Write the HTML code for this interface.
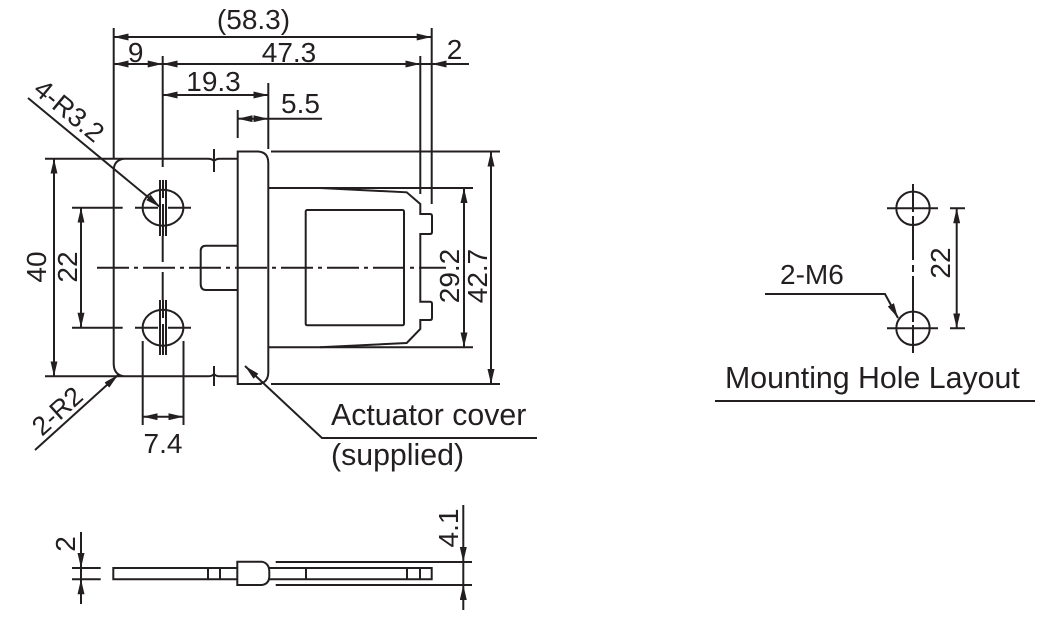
<!DOCTYPE html>
<html>
<head>
<meta charset="utf-8">
<style>
html,body{margin:0;padding:0;background:#fff;width:1047px;height:625px;overflow:hidden}
svg{display:block}
text{font-family:"Liberation Sans",sans-serif;font-size:28px;fill:#231f20}
.b{font-size:30.3px}
.t{fill:none;stroke:#231f20;stroke-width:2}
.c{fill:none;stroke:#231f20;stroke-width:2;stroke-dasharray:32 5 4 5}
</style>
</head>
<body>
<svg width="1047" height="625" viewBox="0 0 1047 625" xmlns="http://www.w3.org/2000/svg">
<defs>
<marker id="a" viewBox="0 0 15 7" refX="15" refY="3.5" markerWidth="15" markerHeight="7" markerUnits="userSpaceOnUse" orient="auto-start-reverse"><path d="M0 0L15 3.5L0 7Z" fill="#231f20"/></marker>
</defs>

<!-- top dims -->
<g class="t">
<path d="M113.7 28V158M431.7 28V204M162.7 56V167M420.3 56V194M268.3 83V149M237.7 110V138"/>
<path d="M113.7 37H431.7" marker-start="url(#a)" marker-end="url(#a)"/>
<path d="M113.7 64H162.7" marker-start="url(#a)" marker-end="url(#a)"/>
<path d="M162.7 64H420.3" marker-start="url(#a)" marker-end="url(#a)"/>
<path d="M469 64H431.7" marker-end="url(#a)"/>
<path d="M420.3 64H431.7"/>
<path d="M162.7 95H268.3" marker-start="url(#a)" marker-end="url(#a)"/>
<path d="M252 118.7H237.7" marker-end="url(#a)"/>
<path d="M252 118.7H268.3" marker-end="url(#a)"/>
<path d="M268.3 118.7H322"/>

<!-- plate -->
<path d="M45 158.7H124Q114 160 113.7 170V364Q114 375 124 376.3H45"/>
<path d="M124 158.7H208Q212 158.7 214 161Q216 158.7 220 158.7H238M214 149V172"/>
<path d="M124 376.3H208Q212 376.3 214 374Q216 376.3 220 376.3H238M214 366V386"/>
<!-- protrusion -->
<path d="M237.7 245.7H206Q200.7 245.7 200.7 251V284Q200.7 290 206 290H237.7"/>
<!-- actuator cover -->
<path d="M262 384H237.7V151.5H258Q268.3 152 268.3 163V372Q268.3 383 258 384"/>
<path d="M271 151.5H500M271 384H500"/>
<!-- slider body -->
<path d="M268.3 188H473M268.3 347.3H473"/>
<path d="M320 188L406.7 192.3L420.3 204V214H430Q432 214 432 216V232Q432 234 430 234H420.3V301.7H430Q432 301.7 432 303.7V318Q432 320 430 320H420.3V329L406.7 343L320 347.3"/>
<rect x="305.7" y="210" width="98.3" height="115.3" rx="1.5"/>
<!-- vertical dims -->
<path d="M491 151.5V384" marker-start="url(#a)" marker-end="url(#a)"/>
<path d="M464 188V347.3" marker-start="url(#a)" marker-end="url(#a)"/>
<path d="M54 158.7V376.3" marker-start="url(#a)" marker-end="url(#a)"/>
<path d="M81 207.7V327.7" marker-start="url(#a)" marker-end="url(#a)"/>
<path d="M72 207.7H122.7M72 327.7H122.7"/>
<!-- holes -->
<ellipse cx="163" cy="207.7" rx="20.4" ry="18"/>
<ellipse cx="163" cy="327.7" rx="20.4" ry="18"/>
<path d="M135 207.7H158M168 207.7H191M135 327.7H158M168 327.7H191"/>
<path d="M160 180V236M163 180V198M163 204V236M166 180V236M160 300V355M163 300V318M163 324V355M166 300V355"/>
<!-- 7.4 -->
<path d="M142.7 341V425M183.5 341V425"/>
<path d="M142.7 416.7H183.5" marker-start="url(#a)" marker-end="url(#a)"/>
<!-- leaders -->
<path d="M28 98L160 207" marker-end="url(#a)"/>
<path d="M35 450L118 375" marker-end="url(#a)"/>
<path d="M537 438H322L245 366" marker-end="url(#a)"/>
</g>
<path class="c" d="M97 267.7H446"/>
<path class="t" d="M162.7 236V262M162.7 272V300"/>

<!-- side view -->
<g class="t">
<path d="M237.3 568H113.3V579.3H237.3M208 568V579.3M220 568V579.3"/>
<path d="M237.3 561.7H261.7Q269.3 563 269.3 572V576Q269.3 584 261.7 585H237.3Z"/>
<path d="M269 568H431.7V579.3H269M306 568V579.3M407 568V579.3M420 568V579.3"/>
<path d="M275.7 562H472M275.7 585H472"/>
<path d="M463.3 505V562" marker-end="url(#a)"/>
<path d="M463.3 610V585" marker-end="url(#a)"/>
<path d="M463.3 562V585"/>
<path d="M72 568H100.7M72 579.3H100.7"/>
<path d="M81 532V568" marker-end="url(#a)"/>
<path d="M81 604V579.3" marker-end="url(#a)"/>
<path d="M81 568V579.3"/>
</g>

<!-- mounting -->
<g class="t">
<circle cx="913" cy="208.3" r="16.7"/>
<circle cx="913" cy="328.3" r="16.7"/>
<path d="M887 208.3H938M887 328.3H938M950 208.3H965M950 328.3H965"/>
<path d="M956.7 208.3V328.3" marker-start="url(#a)" marker-end="url(#a)"/>
<path d="M765 294H885L898 318" marker-end="url(#a)"/>
<path d="M715 401H1035"/>
<path d="M913 184V212M913 216V225M913 225V260M913 265V272M913 276V322M913 325V353"/>
</g>

<!-- labels -->
<text x="253.5" y="29" text-anchor="middle">(58.3)</text>
<text x="135.7" y="62" text-anchor="middle">9</text>
<text x="289" y="62" text-anchor="middle">47.3</text>
<text x="454.5" y="59" text-anchor="middle">2</text>
<text x="213.5" y="91" text-anchor="middle">19.3</text>
<text x="300.5" y="113" text-anchor="middle">5.5</text>
<text x="163" y="453" text-anchor="middle">7.4</text>
<text class="b" x="331" y="425">Actuator cover</text>
<text class="b" x="331" y="465">(supplied)</text>
<text x="780" y="284">2-M6</text>
<text class="b" x="725" y="388">Mounting Hole Layout</text>
<text transform="translate(46 267) rotate(-90)" text-anchor="middle">40</text>
<text transform="translate(77 267) rotate(-90)" text-anchor="middle">22</text>
<text transform="translate(459 276) rotate(-90)" text-anchor="middle">29.2</text>
<text transform="translate(487 276) rotate(-90)" text-anchor="middle">42.7</text>
<text transform="translate(950 263) rotate(-90)" text-anchor="middle">22</text>
<text transform="translate(75 544) rotate(-90)" text-anchor="middle">2</text>
<text transform="translate(458 528) rotate(-90)" text-anchor="middle">4.1</text>
<text transform="translate(32 92) rotate(39.5)" style="font-size:27px">4-R3.2</text>
<text transform="translate(42 437) rotate(-42)" style="font-size:26.5px">2-R2</text>
</svg>
</body>
</html>
